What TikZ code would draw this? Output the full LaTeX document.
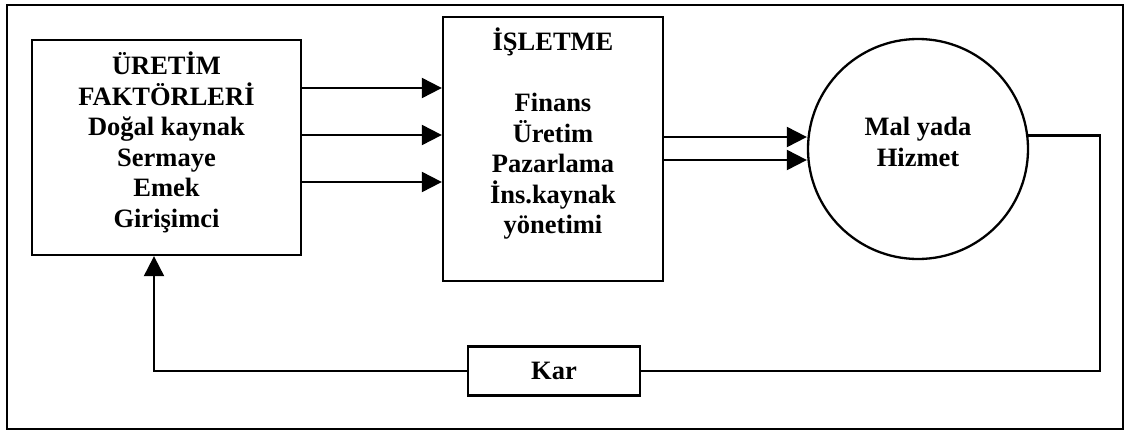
\documentclass[tikz,border=0pt]{standalone}
\usepackage{fontspec}
\setmainfont{Liberation Serif}
\usetikzlibrary{arrows.meta}
\begin{document}
\begin{tikzpicture}[x=1pt,y=-1pt,
  boxs/.style={draw,line width=2.3pt,inner sep=0pt},
  txt/.style={align=center,inner sep=0pt,font=\fontsize{26.5}{30.5}\selectfont\bfseries},
  conn/.style={line width=2.1pt},
  arr/.style={conn,-{Triangle[length=20pt,width=20pt]}}]
\useasboundingbox (0,0) rectangle (1127,431);
\node[draw,line width=1.8pt,minimum width=1116pt,minimum height=424pt,inner sep=0pt] (frame) at (565,217) {};
% boxes
\node[boxs,minimum width=269pt,minimum height=215pt] (uf) at (166.5,147.5) {};
\node[txt] (uft) at (166.5,142.5) {ÜRETİM\\FAKTÖRLERİ\\Doğal kaynak\\Sermaye\\Emek\\Girişimci};
\node[boxs,minimum width=220pt,minimum height=264pt] (isl) at (553,149) {};
\node[txt] (islt) at (553,134) {İŞLETME\\[30.5pt]Finans\\Üretim\\Pazarlama\\İns.kaynak\\yönetimi};
\node[boxs,circle,minimum size=220pt] (mal) at (918,149) {};
\node[txt] (malt) at (918,142) {Mal yada\\Hizmet};
\node[boxs,minimum width=172pt,minimum height=49pt,font=\fontsize{26.5}{30.5}\selectfont\bfseries] (kar) at (554,371) {Kar};
% arrows into the middle box
\draw[arr] ([yshift=59.5pt]uf.east) -- ([yshift=61pt]isl.west);
\draw[arr] ([yshift=12.5pt]uf.east) -- ([yshift=14pt]isl.west);
\draw[arr] ([yshift=-34.5pt]uf.east) -- ([yshift=-33pt]isl.west);
% arrows into the circle
\draw[arr] ([yshift=12pt]isl.east) -- ([yshift=12pt]mal.west);
\draw[arr] ([yshift=-11pt]isl.east) -- ([yshift=-11pt]mal.west);
% feedback loop
\coordinate (c1) at (1100,371);
\coordinate (c2) at (154,371);
\draw[conn] (mal.7.3) -| (c1) -- (kar.east);
\draw[arr] (kar.west) -- (c2) -- (c2 |- uf.south);
\end{tikzpicture}
\end{document}
